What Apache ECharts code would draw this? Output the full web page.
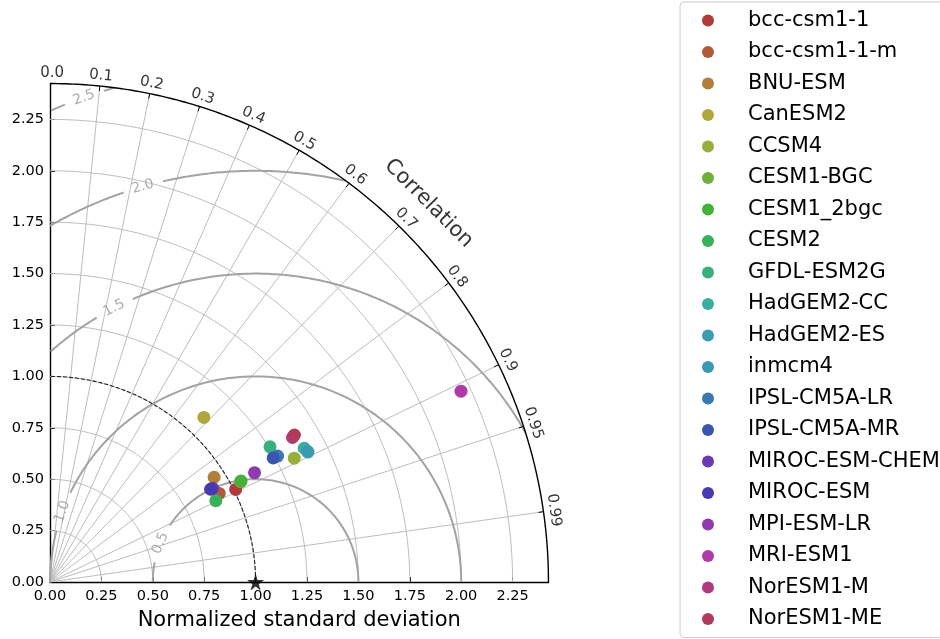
<!DOCTYPE html>
<html><head><meta charset="utf-8">
<script src="https://cdn.jsdelivr.net/npm/echarts@6/dist/echarts.min.js"></script>
<style>html,body{margin:0;padding:0;background:#fff}#c{width:940px;height:639px}</style>
</head><body><div id="c"></div>
<script>
// ---- data ----
const models = ['bcc-csm1-1','bcc-csm1-1-m','BNU-ESM','CanESM2','CCSM4','CESM1-BGC','CESM1_2bgc','CESM2','GFDL-ESM2G','HadGEM2-CC','HadGEM2-ES','inmcm4','IPSL-CM5A-LR','IPSL-CM5A-MR','MIROC-ESM-CHEM','MIROC-ESM','MPI-ESM-LR','MRI-ESM1','NorESM1-M','NorESM1-ME'];
const stdDev = [1.009,0.929,0.947,1.096,1.332,1.048,1.051,0.898,1.256,1.397,1.404,1.405,1.265,1.242,0.913,0.902,1.128,2.204,1.373,1.387];
const correlation = [0.895,0.886,0.843,0.683,0.892,0.885,0.884,0.898,0.852,0.885,0.892,0.893,0.875,0.874,0.866,0.866,0.882,0.907,0.859,0.857];
const colors = ['#b03a3a','#b05a3a','#b07f3a','#b0a83a','#98b03a','#6fb03a','#45b03a','#3ab05a','#3ab07f','#3aaea0','#3a9eb0','#3a9ab0','#3a78b0','#3a55b0','#6a3ab0','#453ab0','#8f3ab0','#b03aa8','#b03a80','#b03a5a'];
const refStd = 1.0;
const stdTicks = [0,0.25,0.5,0.75,1.0,1.25,1.5,1.75,2.0,2.25];
const corrTicks = [0.1,0.2,0.3,0.4,0.5,0.6,0.7,0.8,0.9,0.95,0.99];
const corrTickLabels = ['0.1','0.2','0.3','0.4','0.5','0.6','0.7','0.8','0.9','0.95','0.99'];
const rmsLevels = [0.5,1.0,1.5,2.0,2.5];
const rmsLabels = ['0.5','1.0','1.5','2.0','2.5'];

// ---- layout / style ----
const rmax = 1.1*Math.max(...stdDev);
const SCALE = 205.6;              // px per unit
const OX = 50, OY = 582;
const rmsLabelAngle = [157.8,160.0,117.3,105.9,109.5]; // deg, around reference point
const FONT = 'DejaVu Sans';
const GRID_C = '#bdbdbd', RMS_C = '#a3a3a3';
const noBorder = {textBorderWidth:0, textBorderColor:'transparent', textShadowBlur:0};

const series = [];
function line(pts, color, width, type, z){
  series.push({type:'line', data:pts, symbol:'none', showSymbol:false, silent:true, clip:false,
    animation:false, lineStyle:{color:color, width:width, type:type||'solid'}, z:z||1});
}
function arc(r, n){
  const p=[]; for(let i=0;i<=n;i++){const a=Math.PI/2*i/n; p.push([r*Math.cos(a), r*Math.sin(a)]);} return p;
}
// std grid circles
stdTicks.forEach(r=>{ if(r>0) line(arc(r,200), GRID_C, 1, 'solid', 1); });
// correlation radial lines
corrTicks.forEach(c=>{ const s=Math.sqrt(1-c*c); line([[0,0],[rmax*c, rmax*s]], GRID_C, 1, 'solid', 1); });
// RMS contours
const halfGapPx = 20;
rmsLevels.forEach((R,k)=>{
  const tl = rmsLabelAngle[k]*Math.PI/180;
  const dg = halfGapPx/SCALE/R;
  let seg=[]; const N=3000;
  for(let i=0;i<=N;i++){
    const t=Math.PI*i/N;
    const x=1*refStd+R*Math.cos(t), y=R*Math.sin(t);
    const ok = x>=0 && (x*x+y*y)<=rmax*rmax && Math.abs(t-tl)>dg;
    if(ok) seg.push([x,y]); else { if(seg.length>1) line(seg, RMS_C, 2, 'solid', 2); seg=[]; }
  }
  if(seg.length>1) line(seg, RMS_C, 2, 'solid', 2);
});
// RMS labels
series.push({type:'scatter', symbolSize:0, silent:true, clip:false, animation:false, z:3,
  itemStyle:{color:'transparent'},
  data: rmsLevels.map((R,k)=>{const t=rmsLabelAngle[k]*Math.PI/180;
    return {value:[refStd+R*Math.cos(t), R*Math.sin(t)], name:rmsLabels[k], label:{rotate:rmsLabelAngle[k]-90}};}),
  label:Object.assign({show:true, position:'inside', formatter:'{b}', color:'#999', fontSize:14, fontFamily:FONT, align:'center', verticalAlign:'middle'}, noBorder)
});
// reference std dashed circle
line(arc(refStd,200), '#222', 1.1, [4,2], 3);
// outer arc
line(arc(rmax,400), '#000', 1.4, 'solid', 4);
// correlation ticks
corrTicks.forEach(c=>{ const s=Math.sqrt(1-c*c); const r2=rmax-5/SCALE; line([[rmax*c,rmax*s],[r2*c,r2*s]], '#000', 1, 'solid', 4); });
// correlation labels
const off = 10.5/SCALE;
const corrLabData = [{value:[0.01, rmax+off], name:'0.0', label:{rotate:0}}].concat(corrTicks.map((c,i)=>{
  const th=Math.acos(c); return {value:[(rmax+off)*Math.cos(th),(rmax+off)*Math.sin(th)], name:corrTickLabels[i], label:{rotate:th*180/Math.PI-90}};
}));
series.push({type:'scatter', symbolSize:0, silent:true, clip:false, animation:false, z:4, data:corrLabData,
  itemStyle:{color:'transparent'},
  label:Object.assign({show:true, position:'inside', formatter:'{b}', color:'#000', fontSize:15, fontFamily:FONT, align:'center', verticalAlign:'middle'}, noBorder)});
// correlation title
const rt = (rmax+0.18);
series.push({type:'scatter', symbolSize:0, silent:true, clip:false, animation:false, z:4,
  itemStyle:{color:'transparent'},
  data:[{value:[rt*Math.cos(Math.PI/4), rt*Math.sin(Math.PI/4)], name:'Correlation', label:{rotate:-45}}],
  label:Object.assign({show:true, position:'inside', formatter:'{b}', color:'#000', fontSize:21, fontFamily:FONT, align:'center', verticalAlign:'middle'}, noBorder)});
// models
models.forEach((m,i)=>{
  const th=Math.acos(correlation[i]);
  series.push({type:'scatter', name:m, symbol:'circle', symbolSize:13, clip:false, animation:false, z:5,
    itemStyle:{color:colors[i], opacity:1}, data:[[stdDev[i]*Math.cos(th), stdDev[i]*Math.sin(th)]]});
});
// reference star
series.push({type:'scatter', symbol:'path://M50,0 L61,35 L98,35 L68,57 L79,91 L50,70 L21,91 L32,57 L2,35 L39,35 Z',
  symbolSize:17, clip:false, animation:false, silent:true, z:6, itemStyle:{color:'#000'}, data:[[refStd,0]]});

const W = rmax*SCALE;
const chart = echarts.init(document.getElementById('c'), null, {renderer:'canvas'});
chart.setOption({
  animation:false,
  backgroundColor:'#fff',
  grid:{left:OX, top:OY-W, width:W, height:W, containLabel:false},
  xAxis:{type:'value', min:0, max:rmax,
    name:'Normalized standard deviation', nameLocation:'middle', nameGap:28,
    nameTextStyle:{fontSize:21, fontFamily:FONT, color:'#000'},
    axisLine:{show:true, onZero:false, lineStyle:{color:'#000', width:1.4}},
    axisTick:{show:true, inside:true, length:5, lineStyle:{color:'#000'}, customValues:stdTicks},
    axisLabel:{show:true, margin:7, fontSize:14.5, fontFamily:FONT, color:'#000', customValues:stdTicks, formatter:v=>Number(v).toFixed(2)},
    splitLine:{show:false}},
  yAxis:{type:'value', min:0, max:rmax,
    axisLine:{show:true, onZero:false, lineStyle:{color:'#000', width:1.4}},
    axisTick:{show:true, inside:true, length:5, lineStyle:{color:'#000'}, customValues:stdTicks},
    axisLabel:{show:true, margin:6, fontSize:14.5, fontFamily:FONT, color:'#000', customValues:stdTicks, formatter:v=>Number(v).toFixed(2)},
    splitLine:{show:false}},
  legend:{data:models, orient:'vertical', left:680, top:2, icon:'circle', itemWidth:12, itemHeight:12,
    itemGap:10.5, padding:[8,300,8,22], borderColor:'#cccccc', borderWidth:1, borderRadius:4,
    textStyle:{fontSize:21, lineHeight:21, fontFamily:FONT, color:'#000', padding:[0,0,0,29]}},
  series:series
});
</script></body></html>
